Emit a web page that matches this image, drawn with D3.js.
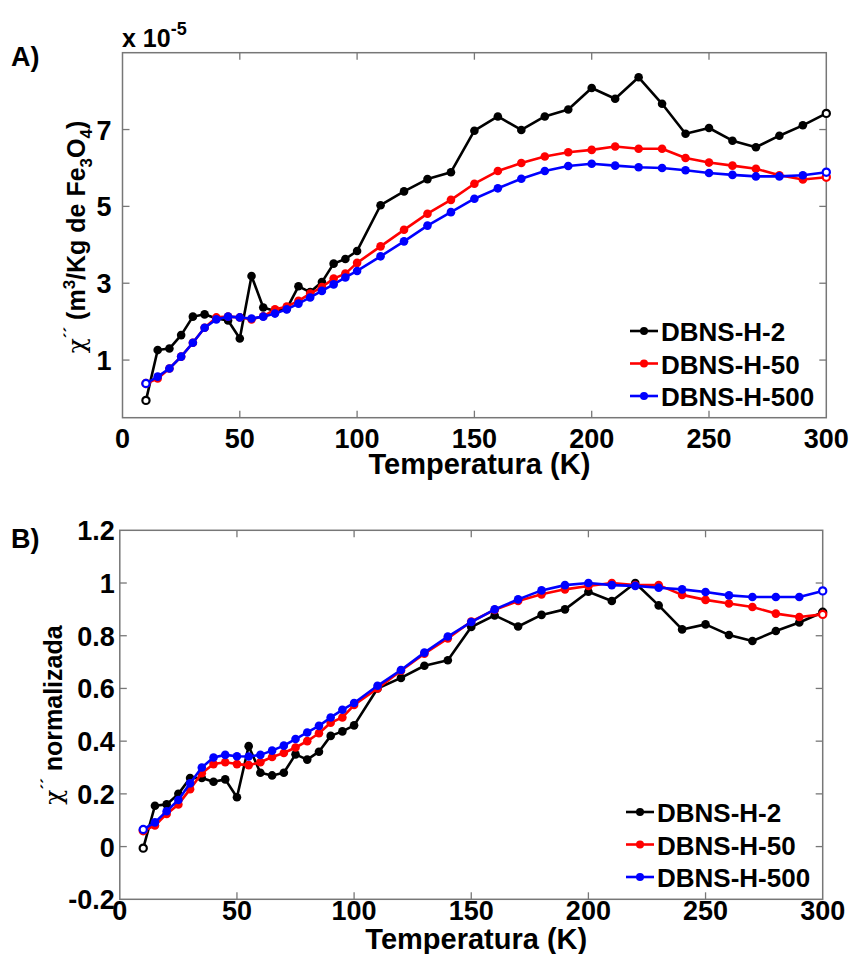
<!DOCTYPE html>
<html><head><meta charset="utf-8">
<script src="https://cdn.jsdelivr.net/npm/d3@7"></script>
<style>body{margin:0;background:#fff}text{font-family:"Liberation Sans",Arial,sans-serif;font-weight:bold;fill:#000}</style>
</head><body><svg id="c" width="850" height="954"></svg>
<script>
const temps = [10,15,20,25,30,35,40,45,50,55,60,65,70,75,80,85,90,95,100,110,120,130,140,150,160,170,180,190,200,210,220,230,240,250,260,270,280,290,300];
const seriesNames = ["DBNS-H-2","DBNS-H-50","DBNS-H-500"];
const seriesColors = ["#000000","#ff0000","#0000ff"];
// Panel A, chi'' in units of 1e-5 m3/kg
const aH2   = [-0.05,1.26,1.30,1.65,2.13,2.19,2.08,2.03,1.56,3.19,2.37,2.28,2.33,2.92,2.77,3.03,3.51,3.63,3.84,5.03,5.39,5.71,5.89,6.97,7.34,6.99,7.34,7.52,8.08,7.80,8.36,7.67,6.89,7.04,6.71,6.54,6.84,7.11,7.42];
const aH50  = [0.39,0.52,0.78,1.09,1.45,1.84,2.11,2.13,2.11,2.06,2.14,2.32,2.39,2.54,2.73,2.90,3.12,3.25,3.53,3.96,4.39,4.81,5.17,5.59,5.92,6.13,6.30,6.41,6.47,6.56,6.50,6.50,6.26,6.14,6.06,5.98,5.81,5.70,5.76];
const aH500 = [0.39,0.57,0.78,1.09,1.45,1.84,2.06,2.13,2.11,2.08,2.13,2.21,2.32,2.47,2.63,2.80,2.97,3.15,3.32,3.70,4.09,4.50,4.85,5.20,5.47,5.72,5.92,6.05,6.11,6.06,6.02,6.00,5.94,5.87,5.82,5.78,5.78,5.81,5.89];
// Panel B, normalized
const bH2   = [-0.006,0.155,0.16,0.20,0.26,0.26,0.246,0.255,0.187,0.381,0.28,0.27,0.28,0.35,0.33,0.36,0.42,0.437,0.46,0.60,0.64,0.686,0.707,0.833,0.877,0.835,0.879,0.90,0.967,0.932,1.0,0.915,0.824,0.843,0.803,0.78,0.818,0.85,0.889];
const bH50  = [0.06,0.08,0.124,0.16,0.218,0.278,0.313,0.32,0.313,0.309,0.32,0.34,0.355,0.376,0.40,0.43,0.47,0.49,0.537,0.60,0.667,0.732,0.79,0.854,0.898,0.932,0.957,0.976,0.989,1.0,0.992,0.992,0.955,0.936,0.922,0.909,0.884,0.871,0.881];
const bH500 = [0.065,0.092,0.134,0.177,0.24,0.30,0.338,0.348,0.343,0.342,0.348,0.364,0.383,0.408,0.433,0.458,0.49,0.519,0.545,0.61,0.67,0.736,0.797,0.852,0.90,0.938,0.972,0.992,1.0,0.992,0.989,0.982,0.976,0.966,0.953,0.947,0.947,0.947,0.97];
const xTicks = [0,50,100,150,200,250,300];
const aYTicks = [1,3,5,7];
const bYTicks = [-0.2,0,0.2,0.4,0.6,0.8,1,1.2];
const bYTickLabels = ["-0.2","0","0.2","0.4","0.6","0.8","1","1.2"];

const svg = d3.select("#c");

function label(g, x, y, str, anchor, size, rot) {
  const t = g.append("text")
    .attr("transform", `translate(${x},${y})` + (rot ? ` rotate(${rot})` : ""))
    .attr("text-anchor", anchor || "start")
    .style("font-size", size + "px");
  if (typeof str === "string") t.text(str);
  return t;
}

function panel(cfg) {
  const g = svg.append("g");
  const x = d3.scaleLinear().domain([0,300]).range([cfg.left, cfg.right]);
  const y = d3.scaleLinear().domain(cfg.yDomain).range([cfg.bottom, cfg.top]);
  const frameColor = "#777";
  const tl = 7;
  xTicks.forEach(v => {
    if (v === 0 || v === 300) return;
    g.append("line").attr("x1", x(v)).attr("x2", x(v)).attr("y1", cfg.bottom).attr("y2", cfg.bottom - tl).attr("stroke", frameColor).attr("stroke-width", 1.3);
    g.append("line").attr("x1", x(v)).attr("x2", x(v)).attr("y1", cfg.top).attr("y2", cfg.top + tl).attr("stroke", frameColor).attr("stroke-width", 1.3);
  });
  cfg.yTicks.forEach(v => {
    if (v === cfg.yDomain[0] || v === cfg.yDomain[1]) return;
    g.append("line").attr("x1", cfg.left).attr("x2", cfg.left + tl).attr("y1", y(v)).attr("y2", y(v)).attr("stroke", frameColor).attr("stroke-width", 1.3);
    g.append("line").attr("x1", cfg.right).attr("x2", cfg.right - tl).attr("y1", y(v)).attr("y2", y(v)).attr("stroke", frameColor).attr("stroke-width", 1.3);
  });
  g.append("rect").attr("x", cfg.left).attr("y", cfg.top).attr("width", cfg.right - cfg.left).attr("height", cfg.bottom - cfg.top)
    .attr("fill", "none").attr("stroke", frameColor).attr("stroke-width", 1.5);
  xTicks.forEach(v => label(g, x(v), cfg.xLabelY, String(v), "middle", 27));
  cfg.yTicks.forEach((v, i) => label(g, cfg.left - cfg.yLabelGap, y(v) + 10, cfg.yTickLabels[i], "end", 27));
  label(g, (cfg.left + cfg.right) / 2 + 5, cfg.xTitleY, "Temperatura (K)", "middle", 29);
  const line = d3.line().x((d, i) => x(temps[i])).y(d => y(d));
  cfg.series.forEach((s, k) => {
    g.append("path").datum(s).attr("d", line).attr("fill", "none").attr("stroke", seriesColors[k]).attr("stroke-width", 2.6).attr("stroke-linejoin", "round");
    g.selectAll(null).data(s).enter().append("circle")
      .attr("cx", (d, i) => x(temps[i])).attr("cy", d => y(d))
      .attr("r", (d, i) => (i === 0 || i === s.length - 1) ? 3.6 : 4.3)
      .attr("fill", (d, i) => (i === 0 || i === s.length - 1) ? "#fff" : seriesColors[k])
      .attr("stroke", seriesColors[k]).attr("stroke-width", (d, i) => (i === 0 || i === s.length - 1) ? 2.2 : 0);
  });
  seriesNames.forEach((n, k) => {
    const ly = cfg.legendY + k * cfg.legendStep;
    g.append("line").attr("x1", cfg.legendX).attr("x2", cfg.legendX + 28).attr("y1", ly).attr("y2", ly).attr("stroke", seriesColors[k]).attr("stroke-width", 2.6);
    g.append("circle").attr("cx", cfg.legendX + 14).attr("cy", ly).attr("r", 4).attr("fill", seriesColors[k]);
    label(g, cfg.legendX + 31, ly + 10, n, "start", 26);
  });
  return g;
}

panel({left:122.5, right:826.3, top:52.7, bottom:417.7, yDomain:[-0.5,9], yTicks:aYTicks, yTickLabels:aYTicks.map(String),
  yLabelGap:11, xLabelY:448, xTitleY:474, series:[aH2,aH50,aH500], legendX:630, legendY:331, legendStep:32.5});
panel({left:119.8, right:822.7, top:530.3, bottom:899.3, yDomain:[-0.2,1.2], yTicks:bYTicks, yTickLabels:bYTickLabels,
  yLabelGap:5, xLabelY:920, xTitleY:949, series:[bH2,bH50,bH500], legendX:626, legendY:812, legendStep:32.5});

label(svg, 11, 66, "A)", "start", 27);
label(svg, 11, 548, "B)", "start", 27);
const mult = label(svg, 122, 47, null, "start", 25);
mult.append("tspan").text("x 10");
mult.append("tspan").attr("dy", -12).style("font-size", "18px").text("-5");

const ta = label(svg, 85, 237, null, "middle", 25, -90);
ta.append("tspan").style("font-family", "'DejaVu Serif',serif").style("font-weight", "normal").text("χ");
ta.append("tspan").attr("dy", -9).style("font-size", "17px").text("´´");
ta.append("tspan").attr("dy", 9).text(" (m");
ta.append("tspan").attr("dy", -10).style("font-size", "17px").text("3");
ta.append("tspan").attr("dy", 10).text("/Kg de Fe");
ta.append("tspan").attr("dy", 7).style("font-size", "17px").text("3");
ta.append("tspan").attr("dy", -7).text("O");
ta.append("tspan").attr("dy", 7).style("font-size", "17px").text("4");
ta.append("tspan").attr("dy", -7).text(")");

const tb = label(svg, 62, 715, null, "middle", 25, -90);
tb.append("tspan").style("font-family", "'DejaVu Serif',serif").style("font-weight", "normal").text("χ");
tb.append("tspan").attr("dy", -9).style("font-size", "17px").text("´´");
tb.append("tspan").attr("dy", 9).text(" normalizada");
</script></body></html>
